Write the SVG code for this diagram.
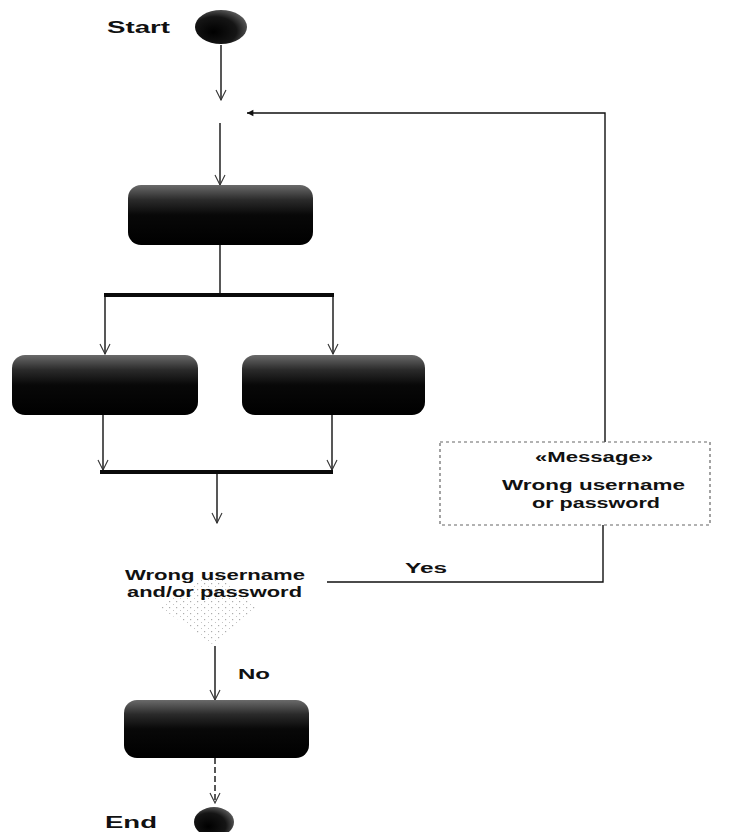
<svg xmlns="http://www.w3.org/2000/svg" width="745" height="832" viewBox="0 0 745 832">
  <defs>
    <style>
      .edge { fill: none; stroke: #111; stroke-width: 1.4; }
      .bar { fill: #0a0a0a; }
      .action { fill: url(#actionFill); }
      .lbl { font-family: "Liberation Sans", Arial, sans-serif; font-weight: bold; fill: #111; }
      .msgbox { fill: #fff; stroke: #666; stroke-width: 1.2; stroke-dasharray: 3 3; }
    </style>
    <linearGradient id="actionFill" x1="0" y1="0" x2="0" y2="1">
      <stop offset="0" stop-color="#6a6a6a"/>
      <stop offset="0.25" stop-color="#2a2a2a"/>
      <stop offset="0.5" stop-color="#080808"/>
      <stop offset="1" stop-color="#000"/>
    </linearGradient>
    <radialGradient id="dotFill" cx="0.4" cy="0.6" r="0.7" fx="0.35" fy="0.65">
      <stop offset="0" stop-color="#000"/>
      <stop offset="0.6" stop-color="#151515"/>
      <stop offset="1" stop-color="#6a6a6a"/>
    </radialGradient>
    <pattern id="stipple" width="7" height="6" patternUnits="userSpaceOnUse">
      <rect x="1" y="1" width="1.2" height="1.2" fill="#888"/>
      <rect x="5" y="4" width="1" height="1" fill="#aaa"/>
    </pattern>
    <marker id="arrow" viewBox="0 0 12 12" refX="11" refY="6" markerWidth="12" markerHeight="12" markerUnits="userSpaceOnUse" orient="auto">
      <path d="M1,1 L11,6 L1,11" fill="none" stroke="#333" stroke-width="1.1"/>
    </marker>
    <marker id="arrowSmall" viewBox="0 0 10 10" refX="9" refY="5" markerWidth="8" markerHeight="8" markerUnits="userSpaceOnUse" orient="auto">
      <path d="M1,1 L9,5 L1,9 Z" fill="#111"/>
    </marker>
  </defs>

  <!-- connectors -->
  <g id="connectors">
    <path class="edge" d="M221,45 V100" marker-end="url(#arrow)"/>
    <path class="edge" d="M220,123 V185" marker-end="url(#arrow)"/>
    <path class="edge" d="M220,245 V294"/>
    <path class="edge" d="M105,297 V354" marker-end="url(#arrow)"/>
    <path class="edge" d="M333,297 V354" marker-end="url(#arrow)"/>
    <path class="edge" d="M103,415 V470" marker-end="url(#arrow)"/>
    <path class="edge" d="M332,415 V470" marker-end="url(#arrow)"/>
    <path class="edge" d="M217,474 V523" marker-end="url(#arrow)"/>
    <path class="edge" d="M215,646 V700" marker-end="url(#arrow)"/>
    <path class="edge" d="M215,758 V803" marker-end="url(#arrow)" stroke-dasharray="6 3"/>
    <!-- "Yes" branch into the message, then back to the merge point -->
    <path class="edge" d="M327,582 H603 V525"/>
    <path class="edge" d="M605,442 V113 H247" marker-end="url(#arrowSmall)"/>
  </g>

  <!-- start -->
  <g id="start">
    <ellipse cx="221" cy="27" rx="26" ry="17" fill="url(#dotFill)"/>
    <text class="lbl" x="107" y="33" font-size="17" textLength="63" lengthAdjust="spacingAndGlyphs">Start</text>
  </g>

  <!-- action 1 -->
  <g id="action1">
    <rect class="action" x="128" y="185" width="185" height="60" rx="13"/>
  </g>

  <!-- fork bar -->
  <g id="fork">
    <rect class="bar" x="104" y="293" width="230" height="4"/>
  </g>

  <!-- parallel actions -->
  <g id="action2">
    <rect class="action" x="12" y="355" width="186" height="60" rx="13"/>
  </g>
  <g id="action3">
    <rect class="action" x="242" y="355" width="183" height="60" rx="13"/>
  </g>

  <!-- join bar -->
  <g id="join">
    <rect class="bar" x="100" y="470" width="233" height="4"/>
  </g>

  <!-- decision -->
  <g id="decision">
    <polygon points="215,570 258,607 215,646 160,607" fill="url(#stipple)" opacity="0.7"/>
    <text class="lbl" x="125" y="580" font-size="15" textLength="180" lengthAdjust="spacingAndGlyphs">Wrong username</text>
    <text class="lbl" x="127" y="597" font-size="15" textLength="175" lengthAdjust="spacingAndGlyphs">and/or password</text>
    <text class="lbl" x="405" y="573" font-size="14" textLength="42" lengthAdjust="spacingAndGlyphs">Yes</text>
    <text class="lbl" x="238" y="679" font-size="15" textLength="32" lengthAdjust="spacingAndGlyphs">No</text>
  </g>

  <!-- message -->
  <g id="message">
    <rect class="msgbox" x="440" y="442" width="270" height="83"/>
    <text class="lbl" x="535" y="462" font-size="14" textLength="118" lengthAdjust="spacingAndGlyphs">«Message»</text>
    <text class="lbl" x="502" y="490" font-size="15" textLength="183" lengthAdjust="spacingAndGlyphs" font-weight="normal">Wrong username</text>
    <text class="lbl" x="532" y="508" font-size="15" textLength="128" lengthAdjust="spacingAndGlyphs" font-weight="normal">or password</text>
  </g>

  <!-- action 4 -->
  <g id="action4">
    <rect class="action" x="124" y="700" width="185" height="58" rx="13"/>
  </g>

  <!-- end -->
  <g id="end">
    <ellipse cx="214" cy="822" rx="20" ry="15" fill="url(#dotFill)"/>
    <text class="lbl" x="105" y="828" font-size="16" textLength="52" lengthAdjust="spacingAndGlyphs">End</text>
  </g>
</svg>
